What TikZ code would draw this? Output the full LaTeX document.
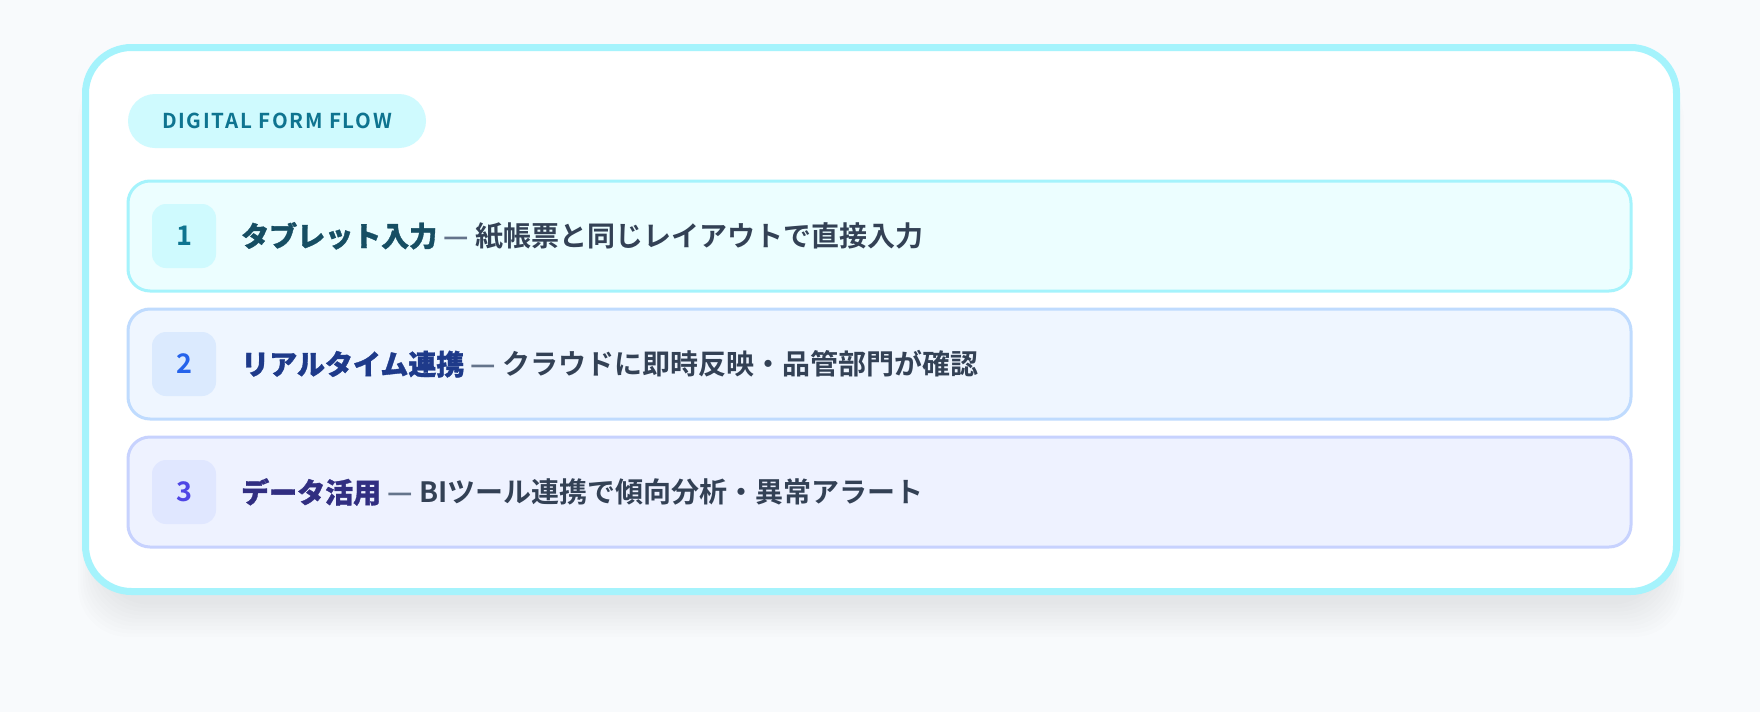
\documentclass[tikz,border=0pt]{standalone}
\usepackage{fontspec}
\setmainfont{Noto Sans CJK JP}[BoldFont={* Bold}]
\newfontfamily\badgefont{Noto Sans CJK JP Bold}[LetterSpace=8.5]
\newfontfamily\numfont{Noto Sans CJK JP Bold}
\newfontfamily\titlefont{Noto Sans CJK JP Bold}[FakeBold=1.2]
\definecolor{pagebg}{HTML}{F8FAFC}
\definecolor{cyanline}{HTML}{A5F3FC}
\definecolor{cyanfill}{HTML}{ECFEFF}
\definecolor{cyanbox}{HTML}{CFFAFE}
\definecolor{cyannum}{HTML}{0E7490}
\definecolor{cyantitle}{HTML}{164E63}
\definecolor{blueline}{HTML}{BFDBFE}
\definecolor{bluefill}{HTML}{EFF6FF}
\definecolor{bluebox}{HTML}{DBEAFE}
\definecolor{bluenum}{HTML}{2563EB}
\definecolor{bluetitle}{HTML}{1E3A8A}
\definecolor{indigoline}{HTML}{C7D2FE}
\definecolor{indigofill}{HTML}{EEF2FF}
\definecolor{indigobox}{HTML}{E0E7FF}
\definecolor{indigonum}{HTML}{4F46E5}
\definecolor{indigotitle}{HTML}{312E81}
\definecolor{bodytext}{HTML}{334155}
\definecolor{dashgray}{HTML}{64748B}
\begin{document}
\begin{tikzpicture}[x=1pt, y=-1pt,
    stepbar/.style={draw, line width=3pt, rounded corners=22pt, minimum width=1503pt, minimum height=110pt, inner sep=0pt},
    numbox/.style={rounded corners=14pt, minimum width=64pt, minimum height=64pt, inner sep=0pt, font=\numfont\fontsize{27}{30}\selectfont},
    steptext/.style={anchor=west, inner sep=0pt, text=bodytext, font=\bfseries\fontsize{28}{32}\selectfont}]
    \useasboundingbox (0, 0) rectangle (1760, 712);
    \fill[pagebg] (0, 0) rectangle (1760, 712);
    \foreach \s in {1, ..., 10}
        \fill[black, opacity=0.009, rounded corners=50pt] (82 + 20 - \s * 2.4, 60 + 10) rectangle (1680 - 20 + \s * 2.4, 595 + 6 + \s * 3.6);
    \draw[cyanline, fill=white, line width=7pt, rounded corners=46pt] (85.5, 47.5) rectangle (1676.5, 591.5);
    \node[fill=cyanbox, rounded corners=27pt, minimum width=298pt, minimum height=54pt, inner sep=0pt,
          text=cyannum, font=\badgefont\fontsize{20.5}{24}\selectfont] (badge) at (277, 121) {DIGITAL FORM FLOW};
    \node[stepbar, draw=cyanline, fill=cyanfill] (row1) at (879.5, 236) {};
    \node[numbox, fill=cyanbox, text=cyannum] (num1) at (184, 236) {1};
    \node[steptext] (text1) at (241, 236) {\textcolor{cyantitle}{\titlefont タブレット入力} \textcolor{dashgray}{—} 紙帳票と同じレイアウトで直接入力};
    \node[stepbar, draw=blueline, fill=bluefill] (row2) at (879.5, 364) {};
    \node[numbox, fill=bluebox, text=bluenum] (num2) at (184, 364) {2};
    \node[steptext] (text2) at (241, 364) {\textcolor{bluetitle}{\titlefont リアルタイム連携} \textcolor{dashgray}{—} クラウドに即時反映・品管部門が確認};
    \node[stepbar, draw=indigoline, fill=indigofill] (row3) at (879.5, 492) {};
    \node[numbox, fill=indigobox, text=indigonum] (num3) at (184, 492) {3};
    \node[steptext] (text3) at (241, 492) {\textcolor{indigotitle}{\titlefont データ活用} \textcolor{dashgray}{—} BIツール連携で傾向分析・異常アラート};
\end{tikzpicture}
\end{document}
